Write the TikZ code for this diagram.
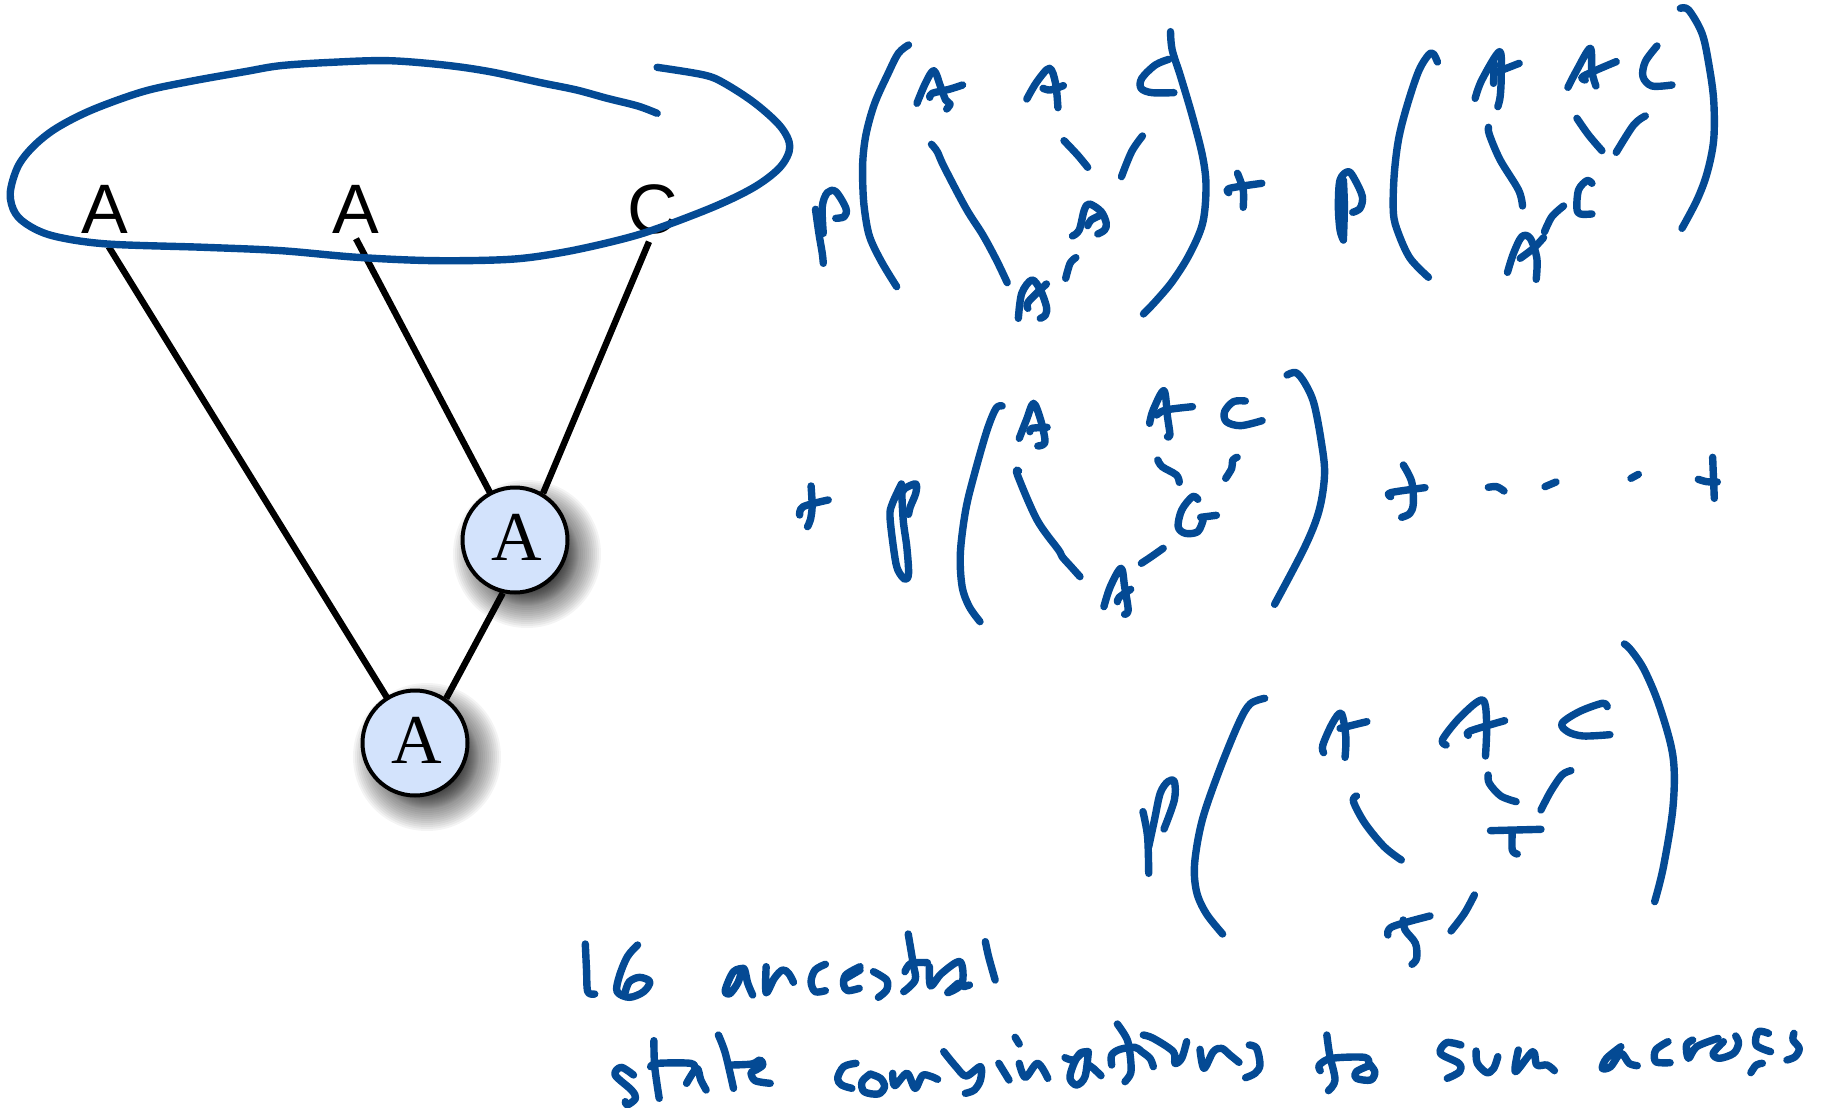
\documentclass[tikz,border=0pt]{standalone}
\usepackage{fontspec}
\setmainfont{Liberation Serif}
\newfontfamily\labelfont{Liberation Sans}
\pgfdeclarelayer{bg}
\pgfsetlayers{bg,main}
\definecolor{inkblue}{HTML}{044A94}
\definecolor{nodeblue}{HTML}{D3E3FC}
\tikzset{
  ink/.style={draw=inkblue,line width=7.4pt,line cap=round,line join=round},
  crop/.style n args={4}{shift={(#1pt,-#2pt)},x=#3pt,y=-#4pt},
  edgeline/.style={draw=black,line width=6.4pt},
  leaf/.style={font=\labelfont\fontsize{70}{70}\selectfont,inner sep=0pt,anchor=base},
  anc/.style={circle,draw=black,line width=4pt,fill=nodeblue,minimum size=105pt,inner sep=0pt,
     font=\fontsize{70}{70}\selectfont,text height=47pt,text depth=7pt},
}
\newcommand{\st}[1]{\draw[ink] plot[smooth,tension=.55] coordinates {#1};}
\begin{document}
\begin{tikzpicture}[x=1pt,y=-1pt]
\useasboundingbox (0,0) rectangle (1823,1108);
% labels and nodes
\node[leaf] (a1) at (104.6,233.3) {A};
\node[leaf] (a2) at (356,233.3) {A};
\node[leaf] (c1) at (653,233.3) {C};
\node[anc] (n1) at (515,540) {\hspace*{4pt}A};
\node[anc] (n2) at (415,743) {\hspace*{4pt}A};
\coordinate (a1e) at (108.7,246.7);
\coordinate (a2e) at (356,238.7);
\coordinate (c1e) at (649,241.7);
\begin{pgfonlayer}{bg}
\fill[white] (0,0) rectangle (1823,1108);
\foreach \r in {36,37,...,52,54,56,...,74}{
  \fill[black,opacity=.045] ([shift={(12,14)}]n1.center) circle [radius=\r pt];
  \fill[black,opacity=.045] ([shift={(12,14)}]n2.center) circle [radius=\r pt];
}
\draw[edgeline] (a1e) -- (n2.center);
\draw[edgeline] (a2e) -- (n1.center);
\draw[edgeline] (c1e) -- (n1.59);
\draw[edgeline] (n1.257) -- (n2.55);
\end{pgfonlayer}
% loop round the leaves
\begin{scope}[crop={0}{0}{.5102}{.3333}]
\st{(1288,340)(1250,318)(1190,295)(1130,270)(1060,248)(960,215)(870,195)(760,182)(650,187)(550,197)(480,215)(370,245)(280,275)(180,330)(110,385)(65,440)(35,500)(20,580)(30,640)(60,680)(110,710)(210,732)(400,742)(550,752)(700,772)(850,782)(1000,778)(1100,758)(1200,725)(1280,690)(1400,620)(1480,560)(1530,500)(1548,440)(1530,380)(1480,310)(1420,250)(1380,225)(1288,202)}
\end{scope}
% first term
\begin{scope}[crop={780}{0}{.3381}{.3333}]
\st{(380,135)(350,160)(320,220)(280,310)(255,400)(245,480)(245,560)(250,630)(265,710)(300,785)(345,860)}
\st{(1155,95)(1160,150)(1185,230)(1220,350)(1250,470)(1260,560)(1250,670)(1210,765)(1160,845)(1110,905)(1075,942)}
\st{(105,628)(115,700)(125,760)(128,790)}
\st{(128,700)(125,620)(140,578)(165,575)(195,625)(190,650)(165,655)}
\st{(405,310)(430,250)(455,212)(475,260)(490,300)(503,312)(493,327)}
\st{(443,292)(450,280)(500,268)(540,255)}
\st{(730,297)(760,245)(797,205)(815,250)(822,323)}
\st{(778,265)(800,270)(838,257)}
\st{(1150,178)(1110,195)(1070,235)(1068,265)(1100,278)(1165,278)}
\st{(448,433)(465,455)(485,500)(550,625)(600,705)(640,780)(672,848)}
\st{(840,422)(880,465)(910,502)}
\st{(1072,408)(1040,455)(1010,530)}
\st{(865,708)(885,690)(900,630)(915,612)(950,635)(965,670)(960,690)(940,702)}
\st{(910,677)(920,660)(950,645)}
\st{(875,773)(858,790)(845,835)}
\st{(705,955)(715,880)(745,840)(770,870)(788,920)(785,945)(770,955)}
\st{(733,925)(735,905)(788,852)}
\st{(1353,520)(1370,570)(1370,622)}
\st{(1327,578)(1330,565)(1425,550)}
\end{scope}
% second term
\begin{scope}[crop={1300}{0}{.3336}{.3333}]
\st{(412,186)(400,162)(385,165)(355,215)(320,320)(295,420)(282,530)(280,640)(295,700)(330,775)(385,832)}
\st{(1140,25)(1165,30)(1205,100)(1225,190)(1240,300)(1240,420)(1220,520)(1190,600)(1145,685)}
\st{(130,720)(120,690)(115,620)(120,540)(145,515)(165,540)(187,590)(180,625)(158,637)}
\st{(130,720)(133,620)(130,540)}
\st{(525,295)(545,240)(598,155)(603,230)(600,290)(593,320)}
\st{(580,250)(582,190)}
\st{(580,220)(657,190)}
\st{(803,262)(830,210)(870,145)(875,215)(887,258)}
\st{(855,240)(850,228)(948,185)}
\st{(1070,138)(1035,185)(1028,230)(1055,258)(1115,255)}
\st{(565,382)(568,405)(600,480)(655,570)(667,618)}
\st{(830,355)(865,405)(905,452)}
\st{(1035,348)(1000,375)(948,457)}
\st{(875,550)(860,542)(835,570)(830,625)(840,642)(875,642)}
\st{(790,618)(755,650)(733,695)}
\st{(622,817)(640,760)(665,710)(690,715)(710,775)(708,838)}
\st{(660,775)(700,745)(730,713)}
\end{scope}
% third term
\begin{scope}[crop={780}{360}{.3571}{.3333}]
\st{(87,378)(90,440)(85,480)(77,500)}
\st{(55,465)(65,440)(135,420)}
\st{(340,372)(315,430)(308,470)(320,580)(330,630)(350,658)(360,640)(355,560)(345,480)(340,372)}
\st{(340,400)(350,385)(380,372)(380,400)(365,440)(360,463)}
\st{(622,138)(605,145)(580,210)(545,340)(520,450)(505,580)(510,680)(530,740)(560,785)}
\st{(1420,45)(1445,38)(1470,70)(1495,130)(1515,240)(1525,340)(1510,450)(1470,560)(1385,733)}
\st{(670,235)(690,180)(710,130)(730,180)(742,240)(735,255)(722,258)}
\st{(700,215)(705,205)(748,202)}
\st{(1035,190)(1045,150)(1075,92)(1085,170)(1092,225)(1085,230)}
\st{(1055,165)(1080,150)(1155,140)}
\st{(1303,123)(1270,125)(1245,155)(1250,185)(1290,197)(1350,182)}
\st{(668,333)(665,345)(720,480)(780,570)(790,590)(815,620)(840,650)}
\st{(1058,300)(1070,320)(1110,345)(1118,367)}
\st{(1280,292)(1268,300)(1265,325)(1248,355)}
\st{(1170,418)(1155,410)(1125,450)(1115,500)(1135,520)(1170,515)(1185,480)}
\st{(1178,472)(1222,466)}
\st{(1073,565)(1040,590)(1012,610)}
\st{(907,740)(925,680)(955,625)(965,680)(975,750)(965,763)}
\st{(945,725)(950,712)(982,688)}
\end{scope}
% plus, dashes, dot, plus on the third row
\begin{scope}[crop={1360}{440}{.3333}{.3333}]
\st{(130,75)(155,125)(160,190)(150,220)(125,232)}
\st{(92,170)(92,158)(195,143)}
\st{(385,142)(410,140)(432,153)}
\st{(555,140)(588,126)}
\st{(813,115)(835,103)}
\st{(1058,52)(1063,175)}
\st{(1015,118)(1040,125)(1072,126)}
\end{scope}
% fourth term
\begin{scope}[crop={1120}{630}{.3827}{.3333}]
\st{(60,545)(72,620)(75,730)}
\st{(75,650)(90,570)(105,490)(125,455)(142,455)(142,510)(115,597)}
\st{(378,205)(340,222)(310,280)(260,420)(215,570)(195,700)(200,785)(225,850)(268,912)}
\st{(1318,42)(1335,60)(1370,120)(1410,230)(1445,380)(1445,530)(1420,710)(1397,815)}
\st{(532,368)(530,345)(555,280)(578,250)(590,320)(588,382)}
\st{(575,295)(645,275)}
\st{(852,345)(843,328)(890,260)(947,210)(958,280)(955,378)}
\st{(910,316)(915,303)(1005,272)}
\st{(1273,230)(1260,220)(1200,245)(1155,280)(1170,305)(1210,318)(1280,314)}
\st{(618,498)(610,515)(640,580)(690,650)(735,690)}
\st{(962,435)(965,460)(995,498)(1035,515)}
\st{(1178,422)(1155,435)(1125,485)(1100,540)}
\st{(968,602)(1100,598)}
\st{(1025,605)(1025,660)(1038,672)}
\st{(926,795)(900,850)(865,903)}
\st{(700,915)(712,890)(810,858)}
\st{(740,870)(745,900)(772,940)(775,985)(763,1003)}
\end{scope}
% handwriting, left part
\begin{scope}[crop={560}{920}{.4082}{.3333}]
\st{(62,72)(65,150)(68,215)(85,222)}
\st{(190,75)(165,110)(145,170)(140,215)(170,232)(205,215)(220,185)(195,172)(170,185)(160,215)}
\st{(450,145)(425,155)(405,210)(415,222)(435,190)(450,145)(460,190)(472,225)}
\st{(505,140)(505,218)(525,175)(545,150)(560,160)(572,187)}
\st{(650,133)(625,150)(615,185)(625,215)(650,212)}
\st{(735,140)(700,165)(695,195)(705,212)(733,205)}
\st{(700,175)(735,150)}
\st{(768,155)(800,180)(800,210)(780,232)}
\st{(853,42)(865,130)(870,180)(842,215)}
\st{(845,155)(860,130)(900,128)}
\st{(905,140)(908,198)(935,160)(980,125)(985,190)(950,218)(975,190)}
\st{(990,200)(1003,195)}
\st{(1042,65)(1050,110)(1066,180)}
\st{(180,465)(150,442)(135,465)(175,510)(185,535)(165,555)(160,545)}
\st{(230,362)(232,440)(243,535)}
\st{(222,440)(240,430)(320,430)(330,445)}
\st{(310,490)(335,445)(345,480)(358,510)}
\st{(388,345)(405,400)(425,505)}
\st{(420,435)(470,432)(490,420)(497,435)(480,450)(468,458)(478,482)(515,490)}
\st{(725,430)(695,440)(680,475)(690,495)(715,505)}
\st{(760,462)(740,485)(745,515)(780,522)(795,500)(785,475)(760,462)}
\st{(815,460)(820,497)(850,460)(870,505)(890,465)(925,478)}
\st{(940,395)(970,440)(995,468)(1030,440)(1030,480)(1015,510)(993,520)}
\st{(1075,430)(1100,480)}
\st{(1115,352)(1125,372)}
\st{(1125,430)(1140,472)(1170,430)(1195,475)}
\end{scope}
% handwriting, end of "combinations"
\begin{scope}[crop={1040}{1010}{.3333}{.3333}]
\st{(75,143)(100,150)(125,130)}
\st{(145,125)(120,130)(100,165)(90,205)(110,225)(135,200)(145,125)}
\st{(145,165)(160,175)(183,197)}
\st{(232,42)(262,90)(272,150)(272,190)(255,215)}
\st{(215,165)(215,135)(240,118)(285,112)(305,125)(330,145)(340,170)}
\st{(310,75)(340,85)(400,125)(405,160)(425,145)(440,95)}
\st{(480,118)(492,175)(520,125)(545,115)(570,135)(597,157)}
\st{(628,105)(650,115)(660,165)(645,190)(617,203)}
\end{scope}
% handwriting, right part
\begin{scope}[crop={1180}{1000}{.4101}{.3333}]
\st{(358,105)(365,165)(378,240)(362,272)}
\st{(342,212)(340,195)(370,175)(450,172)(460,190)}
\st{(465,195)(430,215)(430,235)(465,240)(475,215)(460,190)}
\st{(685,135)(650,128)(635,160)(680,190)(682,215)(652,235)}
\st{(722,153)(725,190)(748,218)(765,205)(775,170)}
\st{(825,150)(818,215)(860,155)(870,195)(895,195)(913,212)}
\st{(1075,140)(1040,175)(1030,205)(1050,200)(1075,160)(1095,190)(1115,197)}
\st{(1190,125)(1160,150)(1160,185)(1195,188)}
\st{(1250,120)(1235,135)(1240,175)(1260,140)(1312,115)}
\st{(1325,125)(1300,160)(1315,175)(1350,160)(1362,130)(1355,108)}
\st{(1435,100)(1410,95)(1405,135)(1440,155)}
\st{(1420,190)(1405,195)(1392,218)}
\st{(1497,100)(1495,120)(1510,145)(1500,170)(1480,180)}
\end{scope}
\end{tikzpicture}
\end{document}
